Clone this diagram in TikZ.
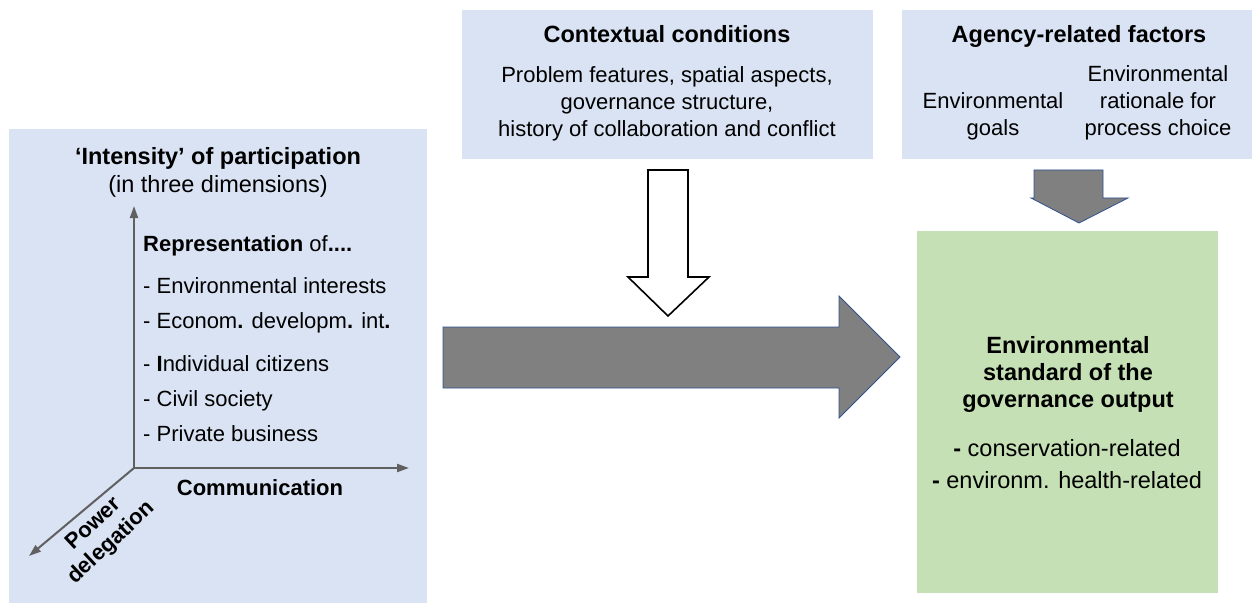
\documentclass[tikz,border=0pt]{standalone}
\usepackage{fontspec}
\setmainfont{Liberation Sans}
\usetikzlibrary{arrows.meta}
\definecolor{boxblue}{HTML}{DAE3F3}
\definecolor{boxgreen}{HTML}{C5E0B4}
\definecolor{arrowgray}{HTML}{808080}
\definecolor{arrowedge}{HTML}{2F528F}
\definecolor{axisgray}{HTML}{606060}
\tikzset{
  panel/.style={fill=#1, draw=none, inner sep=0pt, anchor=north west},
  txt/.style={inner sep=0pt, anchor=base, font=\fontsize{22}{27}\selectfont},
  bigtxt/.style={txt, font=\fontsize{23.5}{28}\selectfont},
  txtl/.style={txt, anchor=base west},
  btxt/.style={txt, font=\fontsize{22}{27}\selectfont\bfseries},
  bbtxt/.style={txt, font=\fontsize{23.5}{28}\selectfont\bfseries},
  powtxt/.style={inner sep=0pt, anchor=center, rotate=43, font=\fontsize{22}{27}\selectfont\bfseries},
  axis/.style={draw=axisgray, line width=2pt, -{Triangle[length=12pt,width=8pt]}},
  grayarrow/.style={fill=arrowgray, draw=arrowedge, line width=0.8pt, line join=miter},
  whitearrow/.style={fill=white, draw=black, line width=1.6pt, line join=miter},
}
\begin{document}
\begin{tikzpicture}[x=1pt,y=-1pt]
\useasboundingbox (0,0) rectangle (1252,604);
% panels
\node[panel=boxblue, minimum width=418pt, minimum height=474pt] (left) at (9,129) {};
\node[panel=boxblue, minimum width=411pt, minimum height=149pt] (ctx) at (462,10) {};
\node[panel=boxblue, minimum width=350pt, minimum height=149pt] (agency) at (902,10) {};
\node[panel=boxgreen, minimum width=301pt, minimum height=362pt] (out) at (917,231) {};

% left panel texts
\node[bbtxt] (t1) at (218,165) {‘Intensity’ of participation};
\node[bigtxt] (t2) at (218,193) {(in three dimensions)};
\node[txtl] (rep) at (143,251) {\textbf{Representation} of\textbf{....}};
\node[txtl] (i1) at (143,293) {- Environmental interests};
\node[txtl] (i2) at (143,328) {- Econom\textbf{.} developm\textbf{.} int\textbf{.}};
\node[txtl] (i3) at (143,371) {- \textbf{I}ndividual citizens};
\node[txtl] (i4) at (143,406) {- Civil society};
\node[txtl] (i5) at (143,441) {- Private business};
\node[btxt] (comm) at (260,495) {Communication};
\node[powtxt] (pow1) at (92.5,523) {Power};
\node[powtxt] (pow2) at (111.5,543) {delegation};

% axes
\coordinate (o) at (134,468);
\coordinate (up) at (134,206);
\coordinate (rt) at (409,468);
\coordinate (dl) at (29,556);
\draw[axis] (o) -- (up);
\draw[axis] (o) -- (rt);
\draw[axis] (o) -- (dl);

% contextual panel
\node[bbtxt] (ctitle) at (667,43) {Contextual conditions};
\node[txt] (c1) at (667,83) {Problem features, spatial aspects,};
\node[txt] (c2) at (667,110) {governance structure,};
\node[txt] (c3) at (667,137) {history of collaboration and conflict};

% agency panel
\node[bbtxt] (atitle) at (1079,43) {Agency-related factors};
\node[txt] (g1) at (993,109) {Environmental};
\node[txt] (g2) at (993,136) {goals};
\node[txt] (r1) at (1158,82) {Environmental};
\node[txt] (r2) at (1158,109) {rationale for};
\node[txt] (r3) at (1158,136) {process choice};

% output panel
\node[bbtxt] (o1) at (1068,353) {Environmental};
\node[bbtxt] (o2) at (1068,380) {standard of the};
\node[bbtxt] (o3) at (1068,407) {governance output};
\node[bigtxt] (o4) at (1067,456) {\textbf{-} conservation-related};
\node[bigtxt] (o5) at (1067,488) {\textbf{-} environm. health-related};

% white down arrow
\draw[whitearrow] (648,170) -- (688,170) -- (688,277) -- (709,277) -- (668,316) -- (628,277) -- (648,277) -- cycle;
% big gray right arrow
\draw[grayarrow] (443,327) -- (839,327) -- (839,296) -- (900,357) -- (839,418) -- (839,388) -- (443,388) -- cycle;
% small gray down arrow
\draw[grayarrow] (1034,170) -- (1103,170) -- (1103,198) -- (1128,198) -- (1079,223) -- (1031,198) -- (1034,198) -- cycle;
\end{tikzpicture}
\end{document}
